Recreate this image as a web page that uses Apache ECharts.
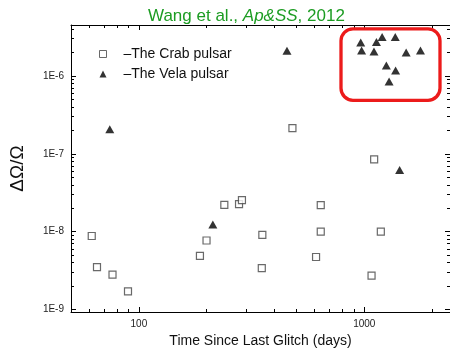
<!DOCTYPE html>
<html>
<head>
<meta charset="utf-8">
<script src="https://cdn.jsdelivr.net/npm/echarts@6/dist/echarts.min.js"></script>
<style>html,body{margin:0;padding:0;background:#fff}#c{width:450px;height:353px}</style>
</head>
<body>
<div id="c"></div>
<script>
// ---- data ----
var crabDays   = [61.8, 65.2, 76.4, 89.5, 186.6, 199.6, 239.4, 278.2, 286.6, 353, 351, 480, 611, 641, 641, 1077, 1106, 1184];
var crabGlitch = [8.8e-9, 3.5e-9, 2.8e-9, 1.71e-9, 4.9e-9, 7.7e-9, 2.21e-8, 2.25e-8, 2.54e-8, 9.1e-9, 3.4e-9, 2.14e-7, 4.73e-9, 2.19e-8, 1.0e-8, 2.72e-9, 8.47e-8, 1.0e-8];
var velaDays   = [74.3, 212.9, 1435, 454, 964, 973, 1132, 1200, 1104, 1372, 1534, 1775, 1253, 1377, 1288];
var velaGlitch = [2.06e-7, 1.24e-8, 6.17e-8, 2.1e-6, 2.68e-6, 2.12e-6, 2.72e-6, 3.15e-6, 2.06e-6, 3.15e-6, 2.0e-6, 2.12e-6, 1.36e-6, 1.17e-6, 8.45e-7];
var seriesNames = ['\u2013The Crab pulsar', '\u2013The Vela pulsar'];
var xMajorTicks = [100, 1000];
var xMinorTicks = [60, 70, 80, 90, 200, 300, 400, 500, 600, 700, 800, 900, 2000];
var yMajorTicks = [1e-9, 1e-8, 1e-7, 1e-6];
var yMinorTicks = [2e-9,3e-9,4e-9,5e-9,6e-9,7e-9,8e-9,9e-9,
                   2e-8,3e-8,4e-8,5e-8,6e-8,7e-8,8e-8,9e-8,
                   2e-7,3e-7,4e-7,5e-7,6e-7,7e-7,8e-7,9e-7,
                   2e-6,3e-6,4e-6];
var xRange = [50, 2400];
var yRange = [9.3e-10, 4.5e-6];

function zip(a, b) { return a.map(function (v, i) { return [v, b[i]]; }); }

var FONT = 'Liberation Sans, Arial, sans-serif';
function xAx(pos, major, showLine, showLabel) {
  return {
    type: 'log', position: pos, min: xRange[0], max: xRange[1],
    axisLine: { show: showLine, onZero: false, lineStyle: { color: '#000', width: 1 } },
    axisTick: { show: true, inside: true, length: major ? 5 : 3, customValues: major ? xMajorTicks : xMinorTicks,
                lineStyle: { color: '#000', width: 1 } },
    axisLabel: { show: showLabel, customValues: xMajorTicks, margin: 7, fontSize: 10, color: '#222', fontFamily: FONT,
                 formatter: function (v) { return String(Math.round(v)); } },
    splitLine: { show: false }, minorTick: { show: false }
  };
}
function yAx(pos, major, showLine, showLabel) {
  return {
    type: 'log', position: pos, min: yRange[0], max: yRange[1],
    axisLine: { show: showLine, onZero: false, lineStyle: { color: '#000', width: 1 } },
    axisTick: { show: true, inside: true, length: major ? 5 : 3, customValues: major ? yMajorTicks : yMinorTicks,
                lineStyle: { color: '#000', width: 1 } },
    axisLabel: { show: showLabel, customValues: yMajorTicks, margin: 7, fontSize: 10, color: '#222', fontFamily: FONT,
                 formatter: function (v) { return '1E' + Math.round(Math.log10(v)); } },
    splitLine: { show: false }, minorTick: { show: false }
  };
}

var xAxes = [xAx('bottom', true, true, true), xAx('bottom', false, false, false),
             xAx('top', true, true, false), xAx('top', false, false, false)];
xAxes[0].name = 'Time Since Last Glitch (days)';
xAxes[0].nameLocation = 'middle';
xAxes[0].nameGap = 20;
xAxes[0].nameTextStyle = { fontSize: 14, color: '#111', fontFamily: FONT };

var yAxes = [yAx('left', true, true, true), yAx('left', false, false, false),
             yAx('right', true, true, false), yAx('right', false, false, false)];
yAxes[0].name = '\u0394\u03A9/\u03A9';
yAxes[0].nameLocation = 'middle';
yAxes[0].nameGap = 44;
yAxes[0].nameRotate = 90;
yAxes[0].nameTextStyle = { fontSize: 19, color: '#111', fontFamily: FONT };

var chart = echarts.init(document.getElementById('c'), null, { renderer: 'canvas' });
chart.setOption({
  animation: false,
  backgroundColor: '#fff',
  title: {
    text: '{a|Wang et al., }{b|Ap&SS}{a|, 2012}',
    left: 143, top: 3,
    textStyle: {
      fontWeight: 'normal',
      rich: {
        a: { fontSize: 17, color: '#1c9c22', fontFamily: FONT, fontWeight: 'normal' },
        b: { fontSize: 17, color: '#1c9c22', fontFamily: FONT, fontWeight: 'normal', fontStyle: 'italic' }
      }
    }
  },
  legend: {
    orient: 'vertical', left: 94, top: 42,
    itemWidth: 7, itemHeight: 7, itemGap: 6,
    textStyle: { fontSize: 14, color: '#111', fontFamily: FONT, padding: [0, 0, 0, 12] },
    data: [
      { name: seriesNames[0], icon: 'rect', itemStyle: { color: '#fff', borderColor: '#444', borderWidth: 1 } },
      { name: seriesNames[1], icon: 'triangle', itemStyle: { color: '#000' } }
    ]
  },
  grid: { left: 67, right: 0, top: 25, bottom: 41, containLabel: false },
  xAxis: xAxes,
  yAxis: yAxes,
  series: [
    {
      name: seriesNames[0], type: 'scatter', xAxisIndex: 0, yAxisIndex: 0,
      symbol: 'rect', symbolSize: 7,
      itemStyle: { color: '#fff', borderColor: '#444', borderWidth: 1.2 },
      data: zip(crabDays, crabGlitch)
    },
    {
      name: seriesNames[1], type: 'scatter', xAxisIndex: 0, yAxisIndex: 0,
      symbol: 'triangle', symbolSize: [9, 8],
      itemStyle: { color: '#000' },
      data: zip(velaDays, velaGlitch)
    }
  ],
  graphic: [{
    type: 'rect', left: 338.5, top: 26.3, z: 100,
    shape: { x: 0, y: 0, width: 99, height: 71.5, r: 12 },
    style: { fill: 'none', stroke: '#ec1b1b', lineWidth: 3.3 }
  }]
});
</script>
</body>
</html>
